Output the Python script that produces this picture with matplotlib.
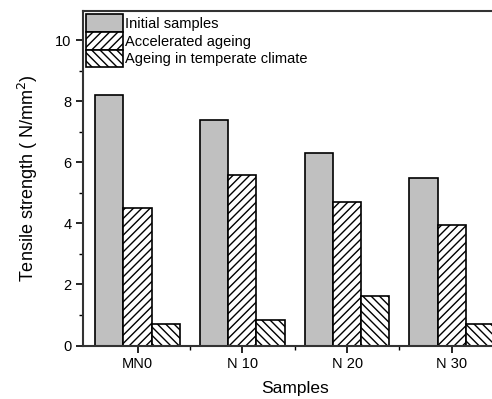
import matplotlib
matplotlib.use("Agg")
import matplotlib.pyplot as plt
import numpy as np

samples = ["MN0", "N 10", "N 20", "N 30"]
initial = [8.2, 7.4, 6.3, 5.5]
accelerated = [4.5, 5.6, 4.7, 3.95]
temperate = [0.72, 0.85, 1.62, 0.72]
series_names = ["Initial samples", "Accelerated ageing", "Ageing in temperate climate"]

plt.rcParams['font.family'] = ['Liberation Sans', 'DejaVu Sans']
plt.rcParams['hatch.linewidth'] = 1.0

fig = plt.figure(figsize=(4.92, 3.99), dpi=100)
ax = fig.add_axes([0.169, 0.134, 0.86, 0.838])

x = np.arange(1, len(samples) + 1)
w = 0.27
ax.bar(x - w, initial, w, color="#c0c0c0", edgecolor="black", linewidth=1.2, label=series_names[0])
ax.bar(x, accelerated, w, color="white", edgecolor="black", linewidth=1.2, hatch="////", label=series_names[1])
ax.bar(x + w, temperate, w, color="white", edgecolor="black", linewidth=1.2, hatch="\\\\\\\\", label=series_names[2])

ax.set_xlim(0.48, 4.52)
ax.set_ylim(0, 10.95)
ax.set_xticks(x)
ax.set_xticklabels(samples)
ax.set_xticks(x[:-1] + 0.5, minor=True)
ax.set_yticks([0, 2, 4, 6, 8, 10])
ax.set_yticks([1, 3, 5, 7, 9], minor=True)
ax.tick_params(which="major", direction="out", length=5, width=1.2, labelsize=10.5)
ax.tick_params(which="minor", direction="out", length=3, width=1.0)
for s in ax.spines.values():
    s.set_linewidth(1.5)
    s.set_color("#333333")

ax.set_xlabel("Samples", fontsize=12.5, labelpad=7)
ax.set_ylabel("Tensile strength ( N/mm$^2$)", fontsize=13, labelpad=11)

leg = ax.legend(loc="upper left", frameon=False, fontsize=10.5, handlelength=2.5, handleheight=1.5,
                handletextpad=0.2, labelspacing=0.0, borderaxespad=0.1, borderpad=0.1)

fig.savefig("out.png", dpi=100)
